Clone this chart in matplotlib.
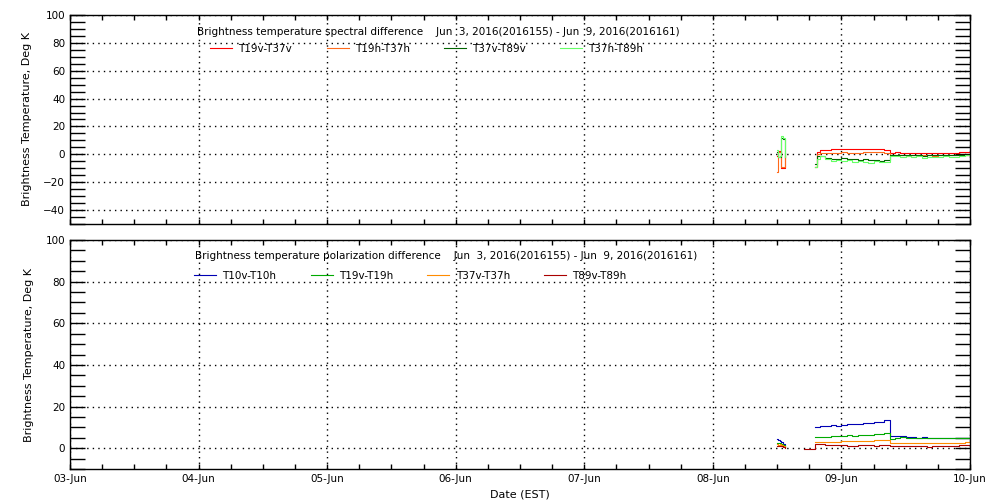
import numpy as np
import matplotlib
matplotlib.use("Agg")
import matplotlib.pyplot as plt
from matplotlib.ticker import MultipleLocator

# x axis in hours since 03-Jun 00:00
day_labels = ["03-Jun", "04-Jun", "05-Jun", "06-Jun", "07-Jun", "08-Jun", "09-Jun", "10-Jun"]

# short burst on 08-Jun
t_burst = [131.9, 132.2, 132.5, 132.8, 133.1, 133.4]

# ---- spectral difference (top) ----
t_spec = [139.0, 139.4, 140, 141, 142, 143, 144, 145, 146, 147, 148, 149, 150, 151, 152,
          153, 154, 155, 156, 157, 158, 159, 160, 161, 162, 163, 164, 165, 166, 167, 168]
t19v_t37v = [-9, 2.0, 3.2, 3.4, 3.6, 3.5, 3.9, 4.0, 3.8, 3.9, 4.1, 3.7, 3.8, 3.6, 3.2,
             1.2, 1.5, 1.0, 1.3, 1.1, 1.0, 1.2, 0.9, 1.0, 0.8, 1.3, 1.1, 0.9, 1.4, 1.7, 1.6]
t19h_t37h = [-9, 0.5, 1.0, 1.2, 1.3, 1.1, 1.4, 1.2, 1.0, 1.3, 1.5, 1.6, 1.8, 1.4, 0.8,
             -0.8, -0.5, -0.7, -0.9, -0.6, -0.8, -0.5, -0.7, -1.0, -0.6, -0.8, -0.5, -0.7, -0.4, -0.3, -0.5]
t37v_t89v = [-7, -1.5, -1.0, -2.5, -3.0, -3.5, -2.8, -3.6, -3.2, -4.0, -3.5, -4.2, -3.8, -4.5, -4.3,
             -0.2, -0.5, -0.6, -0.3, -0.8, -0.5, -0.9, -0.6, -0.4, -0.7, -0.5, -0.8, -0.3, -0.5, -0.2, -0.4]
t37h_t89h = [-9, -3.0, -1.5, -3.5, -4.5, -4.0, -5.0, -4.2, -5.5, -4.8, -5.2, -6.5, -5.0, -5.8, -5.6,
             -1.0, -1.5, -1.8, -1.2, -2.0, -1.5, -2.4, -1.6, -1.8, -2.2, -1.4, -1.9, -1.6, -1.2, -0.8, -1.0]
b19v_t37v = [-1, 2.4, 2.4, -10, -10, 1]
b19h_t37h = [-13, 2.0, 2.0, -9, -9, -1]
b37v_t89v = [2, -2, -2, 12, 11, -2]
b37h_t89h = [3, -2, -1, 13, 12, -2]

# ---- polarization difference (bottom) ----
t_pol = [139, 140, 141, 142, 143, 144, 145, 146, 147, 148, 149, 150, 151, 152, 153,
         154, 155, 156, 157, 158, 159, 160, 161, 162, 163, 164, 165, 166, 167, 168]
t10v_t10h = [10.3, 10.5, 10.6, 11.0, 10.8, 11.3, 11.5, 11.4, 11.8, 12.0, 11.9, 12.4, 12.8, 13.6, 5.8,
             5.9, 5.7, 5.4, 5.2, 5.1, 5.2, 5.0, 5.1, 5.0, 5.1, 4.9, 5.0, 5.1, 5.0, 5.0]
t19v_t19h = [5.2, 5.6, 5.6, 5.8, 5.7, 6.0, 6.1, 6.0, 6.3, 6.4, 6.3, 6.6, 6.8, 7.4, 4.4,
             5.1, 5.2, 5.0, 5.1, 5.0, 5.0, 5.1, 5.0, 4.9, 5.0, 5.0, 5.1, 5.0, 5.0, 5.1]
t37v_t37h = [2.9, 3.0, 3.0, 3.2, 3.1, 3.3, 3.3, 3.4, 3.5, 3.4, 3.6, 3.7, 3.8, 3.8, 2.4,
             2.6, 2.6, 2.7, 2.6, 2.6, 2.7, 2.6, 2.6, 2.6, 2.7, 2.6, 2.6, 2.7, 2.8, 2.8]
t_red = [137, 138, 139, 140, 141, 142, 143, 144, 145, 146, 147, 148, 149, 150, 151, 152,
         153, 154, 155, 156, 157, 158, 159, 160, 161, 162, 163, 164, 165, 166, 167, 168]
t89v_t89h = [-0.6, -0.4, 2.2, 1.9, 1.6, 1.4, 1.3, 1.5, 1.2, 1.0, 1.5, 1.3, 1.4, 1.2, 1.3, 1.4,
             0.9, 0.9, 1.1, 1.0, 1.2, 1.1, 1.0, 0.8, 1.0, 1.1, 0.9, 1.2, 1.0, 1.3, 1.4, 1.7]
b10v_t10h = [4.2, 4.0, 3.6, 2.8, 2.0, 0.8]
b19v_t19h = [2.7, 2.7, 2.4, 2.2, 1.5, 0.5]
b37v_t37h = [1.9, 1.6, 1.8, 1.5, 1.0, 0.5]
b89v_t89h = [1.1, 0.9, 1.2, 1.0, 0.8, 0.3]

plt.rcParams["font.family"] = "DejaVu Sans"

fig = plt.figure(figsize=(10, 5), dpi=100)
ax1 = fig.add_axes([0.07, 0.552, 0.90, 0.418])
ax2 = fig.add_axes([0.07, 0.062, 0.90, 0.458])


def style(ax, ymin, ymax, show_x):
    ax.set_xlim(0, 168)
    ax.set_ylim(ymin, ymax)
    ax.xaxis.set_major_locator(MultipleLocator(24))
    ax.xaxis.set_minor_locator(MultipleLocator(6))
    ax.yaxis.set_major_locator(MultipleLocator(20))
    ax.yaxis.set_minor_locator(MultipleLocator(5))
    ax.tick_params(axis="both", which="both", direction="in", top=True, right=True,
                   color="black", width=1, labelsize=7.5)
    ax.tick_params(axis="y", which="both", length=11)
    ax.tick_params(axis="x", which="both", length=3.5)
    ax.grid(True, which="major", linestyle=(0, (1, 3)), color="black", linewidth=1)
    if show_x:
        ax.set_xticks(np.arange(0, 169, 24))
        ax.set_xticklabels(day_labels)
    else:
        ax.set_xticklabels([])
    ax.set_ylabel("Brightness Temperature, Deg K", fontsize=8, labelpad=8)
    for s in ax.spines.values():
        s.set_linewidth(1)


style(ax1, -50, 100, False)
style(ax2, -10, 100, True)

lw = 0.8
top_colors = ["#ff0000", "#ff6a1a", "#006400", "#66ff66"]
top_names = ["T19v-T37v", "T19h-T37h", "T37v-T89v", "T37h-T89h"]
top_long = [t19v_t37v, t19h_t37h, t37v_t89v, t37h_t89h]
top_burst = [b19v_t37v, b19h_t37h, b37v_t89v, b37h_t89h]
for vals, bvals, c, n in zip(top_long, top_burst, top_colors, top_names):
    ax1.plot(t_spec, vals, color=c, lw=lw, drawstyle="steps-post", label=n)
    ax1.plot(t_burst, bvals, color=c, lw=lw, drawstyle="steps-post")

bot_colors = ["#0000b4", "#00aa00", "#ff8c00", "#aa0000"]
bot_names = ["T10v-T10h", "T19v-T19h", "T37v-T37h", "T89v-T89h"]
bot_t = [t_pol, t_pol, t_pol, t_red]
bot_long = [t10v_t10h, t19v_t19h, t37v_t37h, t89v_t89h]
bot_burst = [b10v_t10h, b19v_t19h, b37v_t37h, b89v_t89h]
for tt, vals, bvals, c, n in zip(bot_t, bot_long, bot_burst, bot_colors, bot_names):
    ax2.plot(tt, vals, color=c, lw=lw, drawstyle="steps-post", label=n)
    ax2.plot(t_burst, bvals, color=c, lw=lw, drawstyle="steps-post")

ax1.text(0.141, 0.92, "Brightness temperature spectral difference    Jun  3, 2016(2016155) - Jun  9, 2016(2016161)",
         transform=ax1.transAxes, fontsize=7.5, va="center", ha="left")
ax2.text(0.139, 0.93, "Brightness temperature polarization difference    Jun  3, 2016(2016155) - Jun  9, 2016(2016161)",
         transform=ax2.transAxes, fontsize=7.5, va="center", ha="left")

leg_kw = dict(ncol=4, frameon=False, fontsize=7.5, handlelength=2.1, handletextpad=0.6,
              columnspacing=3.3, borderpad=0, borderaxespad=0, loc="center left")
ax1.legend(bbox_to_anchor=(0.156, 0.837), **leg_kw)
ax2.legend(bbox_to_anchor=(0.138, 0.843), **leg_kw)

ax2.set_xlabel("Date (EST)", fontsize=8)

fig.savefig("out.png", dpi=100)
